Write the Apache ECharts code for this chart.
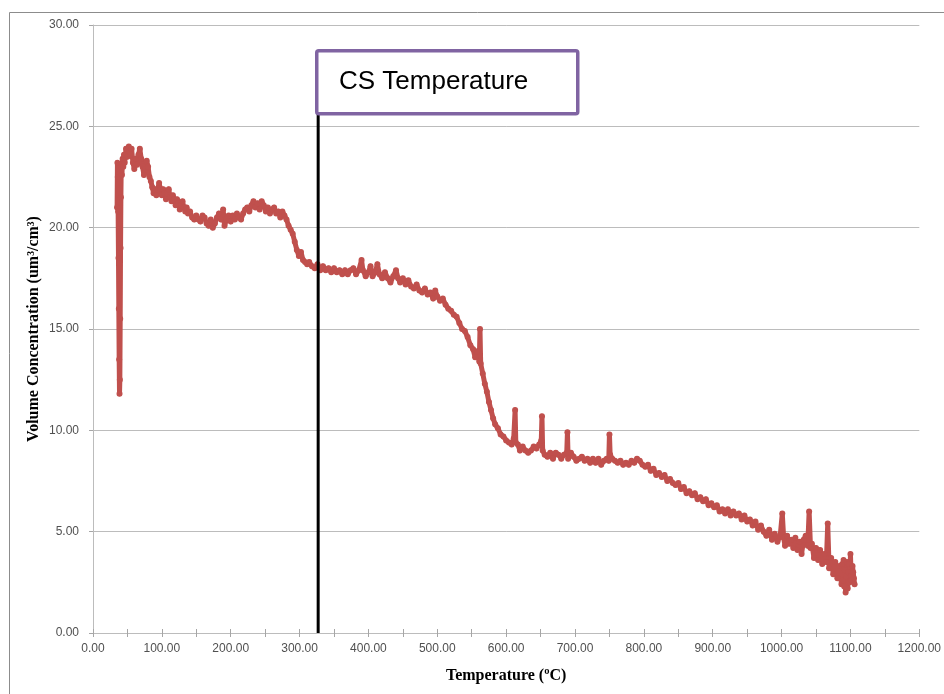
<!DOCTYPE html>
<html>
<head>
<meta charset="utf-8">
<script src="https://cdn.jsdelivr.net/npm/echarts@6/dist/echarts.min.js"></script>
<style>
  html, body { margin: 0; padding: 0; background: #ffffff; }
  #chart { width: 944px; height: 694px; }
</style>
</head>
<body>
<div id="chart"></div>
<script>
// Temperature (°C) readings
const temperature = [
  35, 35.5, 36, 36.5, 37, 37.5, 38, 38.5, 39, 39.5, 40, 40.5, 41, 42, 43, 44, 45, 46, 48, 50,
  52, 54, 56, 58, 60, 62, 64, 66, 68, 70, 72, 74, 76, 78, 80, 82, 84, 86, 88, 90,
  92, 94, 96, 98, 100, 102, 104, 106, 108, 110, 112, 114, 116, 118, 120, 122, 124, 126, 128, 130,
  132, 134, 136, 138, 141, 144, 147, 150, 153, 156, 159, 162, 165, 168, 171, 174, 177, 180, 183, 186,
  189, 191, 194, 197, 200, 203, 206, 209, 212, 215, 218, 221, 224, 227, 230, 233, 236, 239, 242, 245,
  248, 251, 254, 257, 260, 263, 266, 269, 272, 275, 278, 281, 284, 287, 290, 293, 296, 299, 302, 305,
  308, 311, 314, 318, 322, 326, 330, 334, 338, 342, 346, 350, 354, 358, 362, 366, 370, 374, 378, 382,
  386, 390, 392, 396, 400, 403, 406, 410, 413, 416, 420, 424, 428, 432, 436, 440, 443, 446, 450, 454,
  458, 462, 466, 470, 474, 478, 482, 486, 490, 494, 497, 500, 504, 508, 512, 516, 520, 524, 528, 532,
  536, 540, 544, 548, 552, 555, 558, 561, 562, 563, 566, 569, 572, 575, 578, 581, 584, 588, 592, 596,
  600, 604, 608, 611, 613, 614, 617, 620, 624, 628, 632, 636, 640, 644, 648, 651, 652, 653, 656, 660,
  664, 668, 672, 676, 680, 684, 688, 689, 690, 694, 698, 702, 706, 710, 714, 718, 722, 726, 730, 734,
  738, 742, 746, 749, 750, 751, 754, 758, 762, 766, 770, 774, 778, 782, 786, 790, 794, 798, 802, 806,
  810, 814, 818, 822, 826, 830, 834, 838, 842, 846, 850, 854, 858, 862, 866, 870, 874, 878, 882, 886,
  890, 894, 898, 902, 906, 910, 914, 918, 922, 926, 930, 934, 938, 942, 946, 950, 954, 958, 962, 966,
  970, 974, 978, 982, 986, 990, 994, 998, 1001, 1003, 1005, 1008, 1011, 1014, 1017, 1020, 1023, 1026, 1029, 1032,
  1035, 1038, 1040, 1042, 1044, 1047, 1050, 1053, 1056, 1059, 1062, 1065, 1067, 1069, 1072, 1075, 1078, 1081, 1084, 1087,
  1088, 1089, 1090, 1091, 1092, 1093, 1094, 1095, 1096, 1097, 1098, 1099, 1100, 1101, 1102, 1103, 1104, 1105, 1106
];

// Volume concentration (um³/cm³) at each temperature
const volumeConc = [
  21.0, 23.2, 22.5, 20.8, 18.5, 16.0, 13.5, 11.8, 12.5, 15.5, 19.0, 21.5, 23.0, 22.6, 23.4, 23.0, 23.6, 23.2, 23.9, 23.5,
  24.0, 23.6, 23.9, 23.2, 22.9, 23.4, 23.1, 23.6, 23.9, 23.4, 23.0, 22.6, 22.9, 23.3, 23.0, 22.5, 22.3, 22.0, 21.7, 21.9,
  21.6, 21.9, 22.2, 21.9, 21.6, 21.9, 21.7, 21.4, 21.7, 21.9, 21.5, 21.3, 21.6, 21.4, 21.1, 21.4, 21.2, 20.9, 21.1, 21.3,
  21.0, 20.8, 21.0, 20.7, 20.8, 20.5, 20.4, 20.6, 20.4, 20.3, 20.6, 20.5, 20.2, 20.1, 20.4, 20.0, 20.2, 20.5, 20.7, 20.4,
  20.9, 20.1, 20.4, 20.6, 20.3, 20.6, 20.4, 20.7, 20.5, 20.4, 20.7, 20.9, 21.0, 20.8, 21.1, 21.3, 21.0, 21.2, 20.9, 21.3,
  21.1, 20.8, 21.0, 20.7, 20.9, 21.0, 20.7, 20.8, 20.5, 20.8, 20.6, 20.4, 20.1, 19.9, 19.7, 19.3, 18.9, 18.6, 18.8, 18.4,
  18.3, 18.2, 18.3, 18.1, 18.0, 18.2, 17.9, 18.1, 17.9, 18.0, 17.8, 18.0, 17.8, 17.9, 17.7, 17.9, 17.7, 17.9, 18.0, 17.7,
  17.9, 18.4, 17.9, 17.6, 17.8, 18.1, 17.6, 17.8, 18.2, 17.7, 17.5, 17.8, 17.5, 17.3, 17.6, 17.9, 17.5, 17.3, 17.5, 17.2,
  17.4, 17.1, 17.0, 17.2, 16.9, 16.8, 17.0, 16.7, 16.8, 16.5, 16.9, 16.6, 16.4, 16.5, 16.2, 16.0, 15.9, 15.7, 15.6, 15.3,
  15.0, 14.9, 14.6, 14.2, 14.0, 13.6, 13.9, 13.4, 15.0, 13.3, 12.8, 12.3, 11.9, 11.4, 11.0, 10.6, 10.3, 10.1, 9.8, 9.7,
  9.5, 9.4, 9.3, 9.6, 11.0, 9.4, 9.3, 9.0, 9.2, 9.0, 8.9, 9.0, 9.2, 9.1, 9.3, 9.5, 10.7, 9.0, 8.8, 8.7,
  8.9, 8.6, 8.9, 8.8, 8.6, 8.8, 8.9, 9.9, 8.6, 8.9, 8.7, 8.5, 8.6, 8.7, 8.5, 8.6, 8.4, 8.6, 8.4, 8.6,
  8.3, 8.5, 8.6, 8.5, 9.8, 8.8, 8.6, 8.5, 8.4, 8.5, 8.3, 8.4, 8.3, 8.5, 8.4, 8.6, 8.5, 8.3, 8.2, 8.3,
  8.0, 8.1, 7.8, 7.9, 7.7, 7.8, 7.5, 7.6, 7.4, 7.3, 7.4, 7.1, 7.2, 6.9, 7.0, 6.8, 6.9, 6.6, 6.7, 6.5,
  6.6, 6.3, 6.4, 6.2, 6.3, 6.0, 6.1, 5.9, 6.1, 5.8, 6.0, 5.8, 5.9, 5.6, 5.8, 5.5, 5.6, 5.3, 5.5, 5.1,
  5.3, 5.0, 4.8, 5.1, 4.6, 4.9, 4.5, 4.8, 5.9, 4.7, 4.3, 4.8, 4.4, 4.6, 4.2, 4.7, 4.1, 4.5, 3.9, 4.6,
  4.8, 4.3, 6.0, 4.2, 4.4, 3.7, 4.2, 3.6, 4.1, 3.4, 3.9, 3.5, 5.4, 3.2, 3.7, 2.9, 3.5, 2.7, 3.3, 2.4,
  3.4, 2.6, 3.6, 2.3, 3.1, 2.0, 2.8, 3.5, 2.2, 3.0, 3.4, 2.5, 3.9, 2.8, 2.6, 3.3, 3.0, 2.7, 2.4
];

// Temperature marked by the vertical reference line and its label
const csTemperature = 327;
const csLineTop = 25.65;
const csLabel = 'CS Temperature';

const xTicks = { min: 0, max: 1200, step: 50, labelStep: 100 };
const yTicks = { min: 0, max: 30, step: 5 };

const points = temperature.map((t, i) => [t, volumeConc[i]]);

const chart = echarts.init(document.getElementById('chart'), null, { renderer: 'canvas' });

const labelColor = '#505050';
const gridColor = '#BCBCBC';

chart.setOption({
  animation: false,
  backgroundColor: '#ffffff',
  grid: { left: 93, right: 24, top: 25, bottom: 61, containLabel: false },
  xAxis: [{
    type: 'value',
    min: xTicks.min,
    max: xTicks.max,
    interval: xTicks.step,
    name: 'Temperature (ºC)',
    nameLocation: 'middle',
    nameGap: 35,
    nameTextStyle: {
      fontFamily: 'Liberation Serif', fontWeight: 'bold', fontSize: 16, color: '#000'
    },
    axisLine: { show: true, lineStyle: { color: '#BCBCBC', width: 1 } },
    axisTick: { show: true, length: 4, lineStyle: { color: '#A6A6A6' } },
    axisLabel: {
      margin: 10,
      fontFamily: 'Liberation Sans', fontSize: 12, color: labelColor,
      formatter: v => (v % xTicks.labelStep === 0 ? v.toFixed(2) : '')
    },
    splitLine: { show: false }
  }, {
    // inner half of the crossing tick marks
    type: 'value',
    position: 'bottom',
    min: xTicks.min,
    max: xTicks.max,
    interval: xTicks.step,
    axisLine: { show: false },
    axisTick: { show: true, inside: true, length: 4, lineStyle: { color: '#A6A6A6' } },
    axisLabel: { show: false },
    splitLine: { show: false }
  }],
  yAxis: {
    type: 'value',
    min: yTicks.min,
    max: yTicks.max,
    interval: yTicks.step,
    name: 'Volume Concentration (um³/cm³)',
    nameLocation: 'middle',
    nameGap: 51,
    nameMoveOverlap: false,
    nameRotate: 90,
    nameTextStyle: {
      fontFamily: 'Liberation Serif', fontWeight: 'bold', fontSize: 16, color: '#000'
    },
    axisLine: { show: true, lineStyle: { color: '#BCBCBC', width: 1 } },
    axisTick: { show: true, length: 4, lineStyle: { color: '#A6A6A6' } },
    axisLabel: {
      margin: 14,
      fontFamily: 'Liberation Sans', fontSize: 12, color: labelColor,
      formatter: v => v.toFixed(2)
    },
    splitLine: { show: true, lineStyle: { color: gridColor, width: 1 } }
  },
  series: [{
    name: 'Volume Concentration',
    type: 'line',
    data: points,
    xAxisIndex: 0,
    showSymbol: true,
    symbol: 'circle',
    symbolSize: 6,
    lineStyle: { color: '#C0504D', width: 5, join: 'round', cap: 'round' },
    itemStyle: { color: '#C0504D' },
    z: 3
  }, {
    name: csLabel,
    type: 'line',
    data: [[csTemperature, 0], [csTemperature, csLineTop]],
    xAxisIndex: 0,
    showSymbol: false,
    lineStyle: { color: '#000000', width: 3 },
    z: 4
  }],
  graphic: [{
    // outer chart frame
    type: 'rect',
    left: 7, top: 10,
    shape: { width: 960, height: 720 },
    style: { fill: 'none', stroke: '#8C8C8C', lineWidth: 1 },
    silent: true,
    z: 0
  }, {
    type: 'rect',
    left: 315, top: 49,
    shape: { width: 261, height: 63, r: 2 },
    style: { fill: '#ffffff', stroke: '#8064A2', lineWidth: 3.5 },
    z: 10
  }, {
    type: 'text',
    left: 339, top: 69,
    style: {
      text: csLabel,
      fontFamily: 'Liberation Sans', fontSize: 26, fill: '#000000'
    },
    z: 11
  }]
});
</script>
</body>
</html>
